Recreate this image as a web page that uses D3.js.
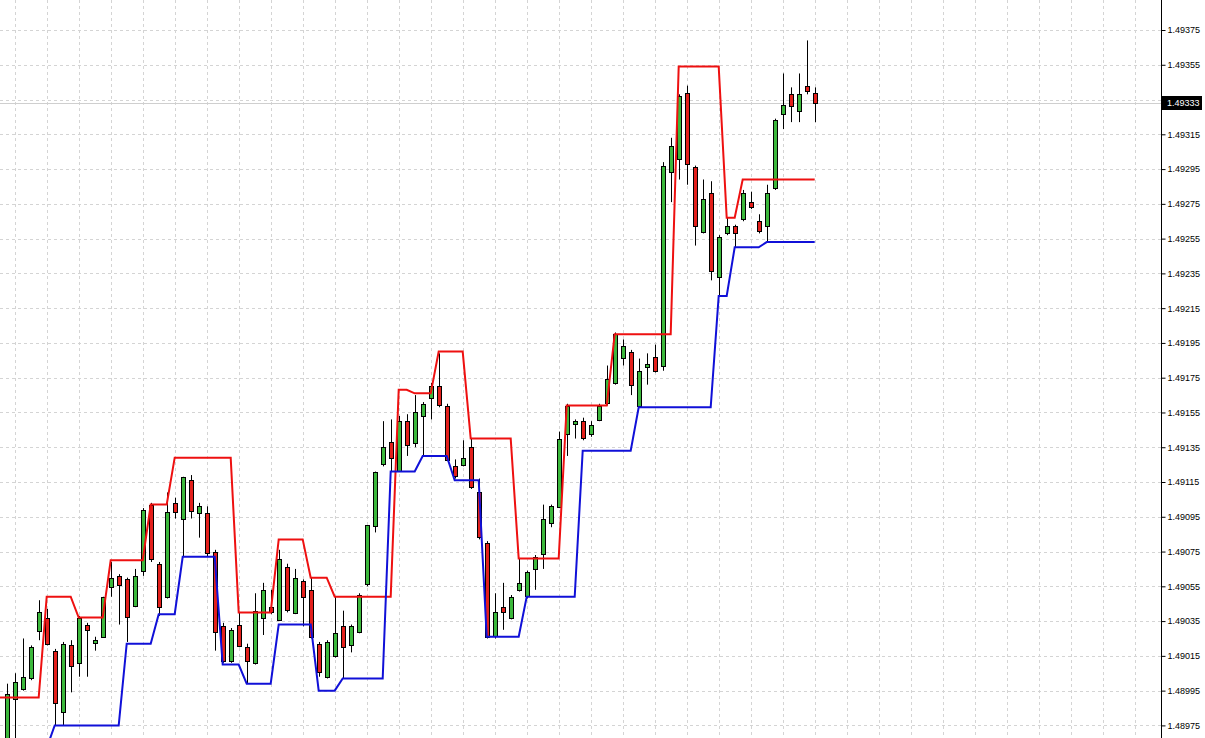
<!DOCTYPE html>
<html>
<head>
<meta charset="utf-8">
<script src="https://cdn.jsdelivr.net/npm/d3@7"></script>
<style>
html,body{margin:0;padding:0;background:#fff;}
svg{display:block;}
</style>
</head>
<body>
<svg id="chart" width="1205" height="738"></svg>
<script>
// ---- data (bar index -1 is the partially visible bar at the left edge) ----
const barIndex = d3.range(-1, 102);

const opens = [
1.48964,1.48964,1.48990,1.48996,1.49002,1.49029,1.49037,1.49018,1.48983,1.49021,
1.49011,1.49033,1.49022,1.49026,1.49055,1.49061,1.49059,1.49044,1.49064,1.49102,
1.49068,1.49049,1.49103,1.49094,1.49116,1.49097,1.49097,1.49075,1.49032,1.49012,
1.49033,1.49020,1.49011,1.49037,1.49043,1.49036,1.49066,1.49040,1.49058,1.49053,
1.49022,1.49003,1.49015,1.49032,1.49021,1.49029,1.49056,1.49090,1.49125,1.49138,
1.49121,1.49150,1.49137,1.49153,1.49163,1.49170,1.49159,1.49124,1.49125,1.49135,
1.49109,1.49080,1.49026,1.49043,1.49037,1.49053,1.49049,1.49065,1.49074,1.49091,
1.49101,1.49143,1.49148,1.49150,1.49143,1.49151,1.49160,1.49172,1.49186,1.49190,
1.49159,1.49181,1.49187,1.49182,1.49293,1.49301,1.49339,1.49296,1.49259,1.49281,
1.49233,1.49258,1.49262,1.49266,1.49276,1.49265,1.49262,1.49284,1.49327,1.49338,
1.49328,1.49343,1.49339];

const highs = [
1.48971,1.48999,1.49005,1.49025,1.49021,1.49047,1.49042,1.49019,1.49023,1.49024,
1.49038,1.49034,1.49026,1.49049,1.49069,1.49062,1.49060,1.49065,1.49100,1.49103,
1.49069,1.49109,1.49106,1.49118,1.49119,1.49103,1.49101,1.49076,1.49034,1.49031,
1.49040,1.49022,1.49051,1.49057,1.49053,1.49076,1.49068,1.49065,1.49059,1.49060,
1.49023,1.49024,1.49049,1.49041,1.49033,1.49051,1.49090,1.49121,1.49150,1.49151,
1.49153,1.49154,1.49165,1.49161,1.49172,1.49189,1.49160,1.49128,1.49139,1.49140,
1.49117,1.49081,1.49051,1.49057,1.49050,1.49071,1.49064,1.49073,1.49102,1.49102,
1.49144,1.49160,1.49151,1.49152,1.49150,1.49160,1.49182,1.49201,1.49197,1.49191,
1.49186,1.49189,1.49194,1.49299,1.49313,1.49338,1.49343,1.49297,1.49289,1.49288,
1.49257,1.49267,1.49263,1.49283,1.49282,1.49269,1.49286,1.49324,1.49350,1.49342,
1.49350,1.49369,1.49342];

const lows = [
1.48949,1.48955,1.48964,1.48995,1.49001,1.49024,1.49021,1.48975,1.48975,1.48994,
1.49003,1.49003,1.49018,1.49026,1.49049,1.49033,1.49023,1.49043,1.49061,1.49069,
1.49038,1.49048,1.49094,1.49072,1.49094,1.49083,1.49072,1.49018,1.49011,1.49011,
1.49020,1.48999,1.49010,1.49027,1.49039,1.49035,1.49040,1.49039,1.49032,1.49025,
1.49003,1.49002,1.49014,1.49002,1.49017,1.49028,1.49055,1.49086,1.49124,1.49121,
1.49121,1.49130,1.49135,1.49130,1.49151,1.49158,1.49127,1.49117,1.49124,1.49111,
1.49082,1.49025,1.49025,1.49030,1.49036,1.49052,1.49048,1.49053,1.49065,1.49089,
1.49100,1.49130,1.49140,1.49139,1.49141,1.49150,1.49159,1.49171,1.49182,1.49165,
1.49158,1.49171,1.49178,1.49179,1.49276,1.49289,1.49286,1.49251,1.49258,1.49231,
1.49222,1.49257,1.49250,1.49265,1.49272,1.49258,1.49253,1.49283,1.49318,1.49322,
1.49322,1.49338,1.49322];

const closes = [
1.48955,1.48993,1.49000,1.49003,1.49020,1.49040,1.49022,1.48988,1.49022,1.49009,
1.49037,1.49030,1.49024,1.49049,1.49060,1.49056,1.49037,1.49061,1.49099,1.49071,
1.49043,1.49098,1.49098,1.49118,1.49098,1.49101,1.49074,1.49029,1.49012,1.49030,
1.49021,1.49012,1.49041,1.49053,1.49040,1.49071,1.49041,1.49060,1.49049,1.49026,
1.49006,1.49023,1.49028,1.49020,1.49032,1.49050,1.49090,1.49121,1.49135,1.49129,
1.49150,1.49136,1.49155,1.49160,1.49170,1.49159,1.49128,1.49118,1.49129,1.49112,
1.49083,1.49026,1.49040,1.49040,1.49049,1.49057,1.49063,1.49072,1.49094,1.49101,
1.49140,1.49159,1.49150,1.49140,1.49148,1.49159,1.49174,1.49200,1.49193,1.49171,
1.49179,1.49183,1.49179,1.49297,1.49308,1.49337,1.49298,1.49262,1.49278,1.49236,
1.49256,1.49262,1.49258,1.49281,1.49273,1.49259,1.49281,1.49323,1.49332,1.49331,
1.49338,1.49340,1.49333];

const upperBand = [
1.48991,1.48991,1.48991,1.48991,1.48991,1.48991,1.49049,1.49049,1.49049,1.49049,
1.49037,1.49037,1.49037,1.49037,1.49070,1.49070,1.49070,1.49070,1.49070,1.49102,
1.49102,1.49102,1.49129,1.49129,1.49129,1.49129,1.49129,1.49129,1.49129,1.49129,
1.49040,1.49040,1.49040,1.49040,1.49040,1.49082,1.49082,1.49082,1.49082,1.49060,
1.49060,1.49060,1.49049,1.49049,1.49049,1.49049,1.49049,1.49049,1.49049,1.49049,
1.49168,1.49168,1.49166,1.49166,1.49166,1.49190,1.49190,1.49190,1.49190,1.49140,
1.49140,1.49140,1.49140,1.49140,1.49140,1.49071,1.49071,1.49071,1.49071,1.49071,
1.49071,1.49159,1.49159,1.49159,1.49159,1.49159,1.49159,1.49200,1.49200,1.49200,
1.49200,1.49200,1.49200,1.49200,1.49200,1.49354,1.49354,1.49354,1.49354,1.49354,
1.49354,1.49267,1.49267,1.49289,1.49289,1.49289,1.49289,1.49289,1.49289,1.49289,
1.49289,1.49289,1.49289];

const lowerBand = [
1.48962,1.48962,1.48962,1.48962,1.48962,1.48962,1.48962,1.48975,1.48975,1.48975,
1.48975,1.48975,1.48975,1.48975,1.48975,1.48975,1.49022,1.49022,1.49022,1.49022,
1.49039,1.49039,1.49039,1.49072,1.49072,1.49072,1.49072,1.49072,1.49010,1.49010,
1.49010,1.48999,1.48999,1.48999,1.48999,1.49033,1.49033,1.49033,1.49033,1.49033,
1.48995,1.48995,1.48995,1.49002,1.49002,1.49002,1.49002,1.49002,1.49002,1.49121,
1.49121,1.49121,1.49121,1.49130,1.49130,1.49130,1.49130,1.49116,1.49116,1.49116,
1.49116,1.49026,1.49026,1.49026,1.49026,1.49026,1.49049,1.49049,1.49049,1.49049,
1.49049,1.49049,1.49049,1.49133,1.49133,1.49133,1.49133,1.49133,1.49133,1.49133,
1.49158,1.49158,1.49158,1.49158,1.49158,1.49158,1.49158,1.49158,1.49158,1.49158,
1.49222,1.49222,1.49250,1.49250,1.49250,1.49250,1.49253,1.49253,1.49253,1.49253,
1.49253,1.49253,1.49253];

const tickLabels = ["1.48975","1.48995","1.49015","1.49035","1.49055","1.49075","1.49095",
  "1.49115","1.49135","1.49155","1.49175","1.49195","1.49215","1.49235","1.49255",
  "1.49275","1.49295","1.49315","1.49335","1.49355","1.49375"];

const currentPrice = 1.49333;

// ---- layout ----
const W = 1205, H = 738;
const plotRight = 1161;
const svg = d3.select("#chart");
svg.append("rect").attr("width", W).attr("height", H).attr("fill", "#fff");

const x = d3.scaleLinear().domain([0, 101]).range([6.7, 814.7]);
const y = d3.scaleLinear().domain([1.48975, 1.49375]).range([725.4, 30]);

svg.append("clipPath").attr("id", "plotClip")
  .append("rect").attr("x", 0).attr("y", 0).attr("width", plotRight).attr("height", H);

const plot = svg.append("g").attr("clip-path", "url(#plotClip)");

// grid
const gridColor = "#d4d4d4";
plot.append("g").selectAll("line").data(tickLabels).join("line")
  .attr("x1", 0).attr("x2", plotRight)
  .attr("y1", d => Math.round(y(+d)) + 0.5).attr("y2", d => Math.round(y(+d)) + 0.5)
  .attr("stroke", gridColor).attr("stroke-width", 1).attr("stroke-dasharray", "3,3");

const vgrid = [];
for (let i = 1; x(i) < plotRight; i += 4) vgrid.push(i);
plot.append("g").selectAll("line").data(vgrid).join("line")
  .attr("x1", d => Math.round(x(d)) + 0.5).attr("x2", d => Math.round(x(d)) + 0.5)
  .attr("y1", 0).attr("y2", H)
  .attr("stroke", gridColor).attr("stroke-width", 1).attr("stroke-dasharray", "3,3");

// current price line
plot.append("line")
  .attr("x1", 0).attr("x2", plotRight)
  .attr("y1", Math.round(y(currentPrice)) + 0.5).attr("y2", Math.round(y(currentPrice)) + 0.5)
  .attr("stroke", "#cfcfcf").attr("stroke-width", 1);

// candles
const bars = barIndex.map((b, k) => ({i: b, o: opens[k], h: highs[k], l: lows[k], c: closes[k]}));
const cg = plot.append("g");
cg.selectAll("line.wick").data(bars).join("line").attr("class", "wick")
  .attr("x1", d => Math.round(x(d.i)) + 0.5).attr("x2", d => Math.round(x(d.i)) + 0.5)
  .attr("y1", d => y(d.h)).attr("y2", d => y(d.l))
  .attr("stroke", "#000").attr("stroke-width", 1);
cg.selectAll("rect.body").data(bars).join("rect").attr("class", "body")
  .attr("x", d => Math.round(x(d.i)) - 1.5)
  .attr("width", 4)
  .attr("y", d => Math.round(y(Math.max(d.o, d.c))) + 0.5)
  .attr("height", d => Math.max(1, Math.round(Math.abs(y(d.o) - y(d.c)))))
  .attr("fill", d => d.c >= d.o ? "#3cb83c" : "#e3201c")
  .attr("stroke", "#000").attr("stroke-width", 1);

// channel lines
const lineGen = d3.line().x(d => x(d[0])).y(d => y(d[1]));
plot.append("path").datum(barIndex.map((b, k) => [b, upperBand[k]]))
  .attr("d", lineGen).attr("fill", "none").attr("stroke", "#ee1010").attr("stroke-width", 2);
plot.append("path").datum(barIndex.map((b, k) => [b, lowerBand[k]]))
  .attr("d", lineGen).attr("fill", "none").attr("stroke", "#1010d8").attr("stroke-width", 2);

// right axis
const axis = d3.axisRight(y).tickValues(tickLabels.map(Number)).tickSize(4).tickPadding(2)
  .tickFormat((d, k) => tickLabels[k]);
const ag = svg.append("g").attr("transform", `translate(${plotRight + 0.5},0)`).call(axis);
ag.select(".domain").attr("d", `M0,0V${H}`).attr("stroke", "#000");
ag.selectAll(".tick line").attr("stroke", "#000");
ag.selectAll(".tick text").attr("font-family", "'Liberation Sans', Arial, sans-serif")
  .attr("font-size", "9px").attr("fill", "#000");

// current price label (covers the 1.49335 tick label, as in the terminal)
const cy = y(currentPrice);
svg.append("rect").attr("x", plotRight + 1).attr("y", Math.round(cy) - 7)
  .attr("width", 40).attr("height", 14).attr("fill", "#000");
svg.append("text").attr("x", plotRight + 6).attr("y", cy).attr("dy", "0.32em")
  .attr("font-family", "'Liberation Sans', Arial, sans-serif").attr("font-size", "9px")
  .attr("fill", "#fff").text(currentPrice.toFixed(5));
</script>
</body>
</html>
